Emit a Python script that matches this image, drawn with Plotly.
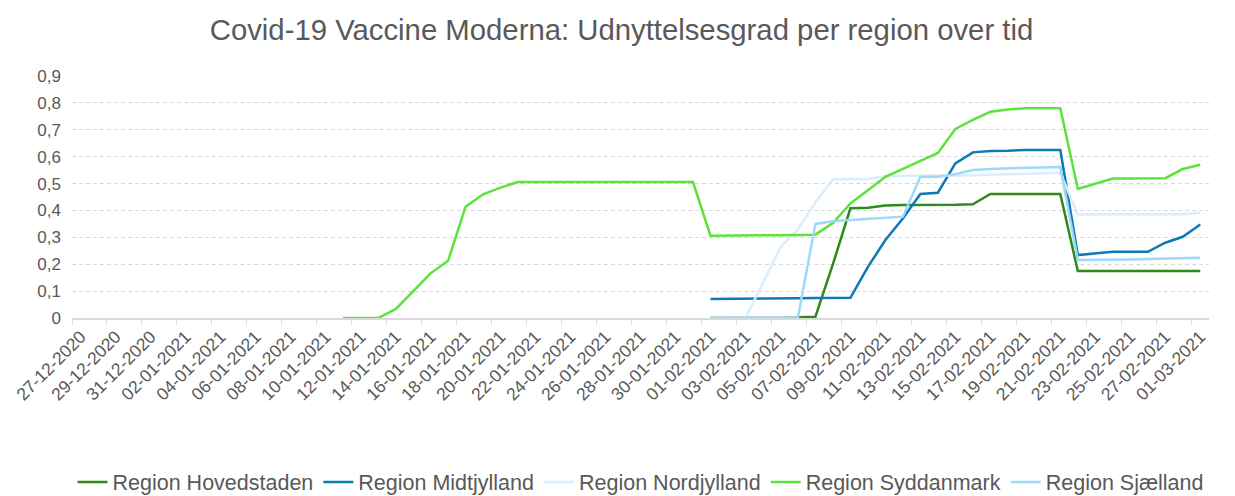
import plotly.graph_objects as go
import datetime as dt

# Category labels: daily from 27-12-2020 to 01-03-2021
start = dt.date(2020, 12, 27)
dates = [(start + dt.timedelta(days=k)).strftime("%d-%m-%Y") for k in range(65)]

N = None
hovedstaden = [N]*36 + [0.0, 0.0, 0.0, 0.0, 0.0, 0.003, 0.005, 0.2, 0.408, 0.41, 0.418, 0.42, 0.42, 0.42,
                        0.421, 0.423, 0.461, 0.461, 0.461, 0.461, 0.461,
                        0.175, 0.175, 0.175, 0.175, 0.175, 0.175, 0.175, 0.175]
midtjylland = [N]*36 + [0.071, 0.071, 0.072, 0.072, 0.073, 0.073, 0.074, 0.074, 0.075, 0.19, 0.29, 0.37,
                        0.461, 0.466, 0.575, 0.616, 0.621, 0.622, 0.625, 0.625, 0.625,
                        0.234, 0.241, 0.246, 0.246, 0.246, 0.28, 0.302, 0.348]
nordjylland = [N]*36 + [0.0, 0.0, 0.0, 0.131, 0.263, 0.33, 0.43, 0.516, 0.516, 0.517, 0.528, 0.528,
                        0.528, 0.529, 0.53, 0.531, 0.533, 0.535, 0.536, 0.538, 0.54,
                        0.385, 0.386, 0.386, 0.386, 0.386, 0.386, 0.386, 0.391]
syddanmark = [N]*15 + [0.0, 0.0, 0.0, 0.033, 0.10, 0.166, 0.213, 0.414, 0.46, 0.485,
                       0.506, 0.506, 0.506, 0.506, 0.506, 0.506, 0.506, 0.506, 0.506, 0.506, 0.506,
                       0.306, 0.306, 0.307, 0.307, 0.308, 0.309, 0.31, 0.353, 0.426, 0.475, 0.525, 0.555,
                       0.585, 0.614, 0.703, 0.737, 0.767, 0.775, 0.78, 0.78, 0.78,
                       0.48, 0.50, 0.519, 0.519, 0.519, 0.52, 0.554, 0.57]
sjaelland = [N]*36 + [0.001, 0.001, 0.001, 0.001, 0.001, 0.002, 0.35, 0.36, 0.364, 0.368, 0.372, 0.377,
                      0.525, 0.525, 0.535, 0.55, 0.554, 0.557, 0.559, 0.56, 0.562,
                      0.216, 0.216, 0.217, 0.218, 0.219, 0.22, 0.222, 0.224]

series = [
    ("Region Hovedstaden", hovedstaden, "#2e8b17"),
    ("Region Midtjylland", midtjylland, "#0e7ab5"),
    ("Region Nordjylland", nordjylland, "#d9edfd"),
    ("Region Syddanmark", syddanmark, "#5ae33a"),
    ("Region Sjælland", sjaelland, "#9ed8fa"),
]

y_ticks = [0, 0.1, 0.2, 0.3, 0.4, 0.5, 0.6, 0.7, 0.8, 0.9]
y_tick_text = ["0", "0,1", "0,2", "0,3", "0,4", "0,5", "0,6", "0,7", "0,8", "0,9"]

x_idx = list(range(len(dates)))

fig = go.Figure()
for name, vals, color in series:
    fig.add_trace(go.Scatter(x=x_idx, y=vals, mode="lines", name=name,
                             line=dict(color=color, width=2.5), connectgaps=False))

font_family = "Liberation Sans, Arial, sans-serif"
gray = "#595959"

W, H = 1227, 488

fig.update_layout(
    width=W, height=H,
    margin=dict(l=64, r=26, t=68, b=178),
    paper_bgcolor="white", plot_bgcolor="white",
    title=dict(text="Covid-19 Vaccine Moderna: Udnyttelsesgrad per region over tid",
               x=0.5, xanchor="center", y=1 - 22 / H, yanchor="middle",
               font=dict(family=font_family, size=29.3, color=gray)),
    font=dict(family=font_family, size=16, color=gray),
    showlegend=True,
    legend=dict(orientation="h", x=0.5, xanchor="center", yref="container",
                y=14 / H, yanchor="middle",
                font=dict(family=font_family, size=21.5, color=gray),
                itemwidth=30, tracegroupgap=0),
    xaxis=dict(
        range=[-0.5, len(dates) - 0.5],
        tickmode="array",
        tickvals=x_idx[::2],
        ticktext=dates[::2],
        tickangle=-45,
        ticks="",
        showgrid=False,
        zeroline=False,
        automargin=False,
        showline=True, linecolor="#d9d9d9", linewidth=1.5,
        tickfont=dict(family=font_family, size=17.5, color=gray),
        minor=dict(tick0=-0.5, dtick=2, ticks="outside", ticklen=5,
                   tickcolor="#d9d9d9", tickwidth=1, showgrid=False),
    ),
    yaxis=dict(
        range=[0, 0.9],
        tickmode="array",
        tickvals=y_ticks,
        ticktext=y_tick_text,
        showgrid=True, gridcolor="#d9d9d9", gridwidth=1, griddash="4px,3px",
        zeroline=False, showline=False, ticks="",
        automargin=False,
        ticklabelstandoff=10,
        tickfont=dict(family=font_family, size=17, color=gray),
    ),
)

fig.write_html("out.html")
